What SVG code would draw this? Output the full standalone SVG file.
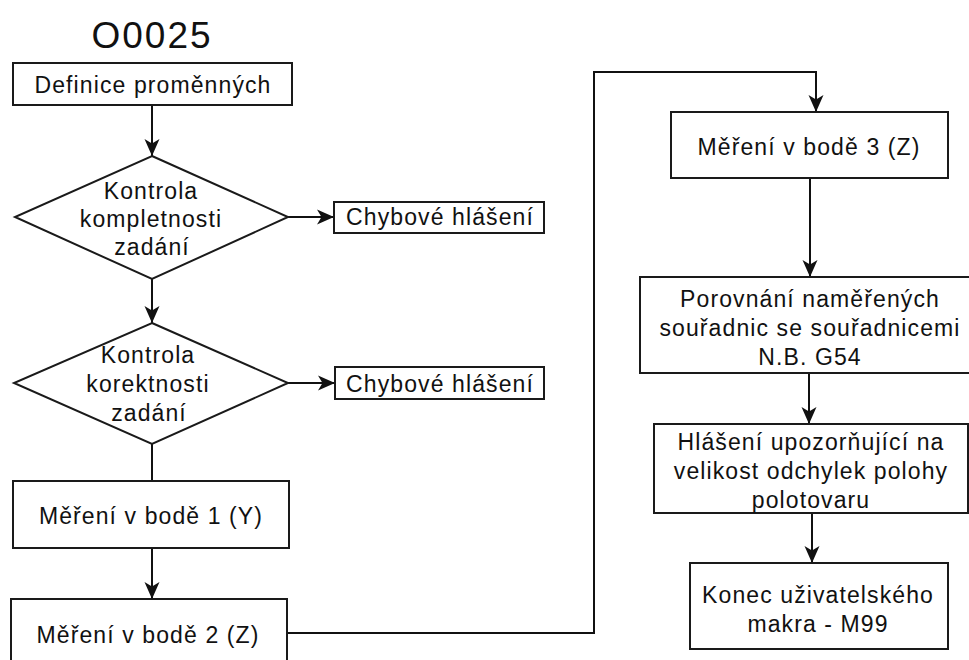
<svg xmlns="http://www.w3.org/2000/svg" width="969" height="660" viewBox="0 0 969 660">
<style>
.n{fill:#fff;stroke:#1a1a1a;stroke-width:2}
.t{font-family:"Liberation Sans",Arial,sans-serif;font-size:23px;letter-spacing:1.1px;fill:#111;text-anchor:middle}
.c{fill:none;stroke:#111;stroke-width:2}
</style>
<defs>
<marker id="ah" markerUnits="userSpaceOnUse" markerWidth="20" markerHeight="18" refX="17" refY="9" orient="auto">
<path d="M0,1.5 L17,9 L0,16.5 L4.5,9 Z" fill="#111"/>
</marker>
</defs>
<rect width="969" height="660" fill="#fff"/>
<text x="152" y="48" style="font-family:'Liberation Sans',Arial,sans-serif;font-size:37px;letter-spacing:2px;fill:#111;text-anchor:middle">O0025</text>
<g id="connectors">
<path class="c" d="M152,105 V156" marker-end="url(#ah)"/>
<path class="c" d="M288,217 H334" marker-end="url(#ah)"/>
<path class="c" d="M152,279 V323" marker-end="url(#ah)"/>
<path class="c" d="M288,383 H335" marker-end="url(#ah)"/>
<path class="c" d="M152,444 V481"/>
<path class="c" d="M152,548 V599" marker-end="url(#ah)"/>
<path class="c" d="M287,633 H594 V72 H816 V112" marker-end="url(#ah)"/>
<path class="c" d="M810,178 V277" marker-end="url(#ah)"/>
<path class="c" d="M809,373 V424" marker-end="url(#ah)"/>
<path class="c" d="M812,513 V563" marker-end="url(#ah)"/>
</g>
<g id="definice">
<rect class="n" x="13" y="63" width="279" height="42"/>
<text class="t" x="153" y="93">Definice proměnných</text>
</g>
<g id="kontrola1">
<polygon class="n" points="152,156 288,217 152,279 15,217"/>
<text class="t" x="151" y="199">Kontrola</text>
<text class="t" x="151" y="227">kompletnosti</text>
<text class="t" x="152" y="255">zadání</text>
</g>
<g id="chyba1">
<rect class="n" x="334" y="202" width="210" height="31"/>
<text class="t" x="440" y="225">Chybové hlášení</text>
</g>
<g id="kontrola2">
<polygon class="n" points="152,323 288,383 152,444 14,383"/>
<text class="t" x="148" y="363">Kontrola</text>
<text class="t" x="148" y="392">korektnosti</text>
<text class="t" x="149" y="421">zadání</text>
</g>
<g id="chyba2">
<rect class="n" x="335" y="367" width="209" height="32"/>
<text class="t" x="440" y="392">Chybové hlášení</text>
</g>
<g id="mereni1">
<rect class="n" x="13" y="481" width="276" height="67"/>
<text class="t" x="151" y="524">Měření v bodě 1 (Y)</text>
</g>
<g id="mereni2">
<rect class="n" x="11" y="599" width="276" height="80"/>
<text class="t" x="148" y="643">Měření v bodě 2 (Z)</text>
</g>
<g id="mereni3">
<rect class="n" x="671" y="112" width="277" height="66"/>
<text class="t" x="809" y="155">Měření v bodě 3 (Z)</text>
</g>
<g id="porovnani">
<rect class="n" x="640" y="277" width="345" height="96"/>
<text class="t" x="810" y="307">Porovnání naměřených</text>
<text class="t" x="810" y="336">souřadnic se souřadnicemi</text>
<text class="t" x="810" y="365">N.B. G54</text>
</g>
<g id="hlaseni">
<rect class="n" x="654" y="424" width="314" height="89"/>
<text class="t" x="811" y="450">Hlášení upozorňující na</text>
<text class="t" x="811" y="479">velikost odchylek polohy</text>
<text class="t" x="811" y="508">polotovaru</text>
</g>
<g id="konec">
<rect class="n" x="690" y="563" width="258" height="86"/>
<text class="t" x="818" y="603">Konec uživatelského</text>
<text class="t" x="818" y="632">makra - M99</text>
</g>
</svg>
